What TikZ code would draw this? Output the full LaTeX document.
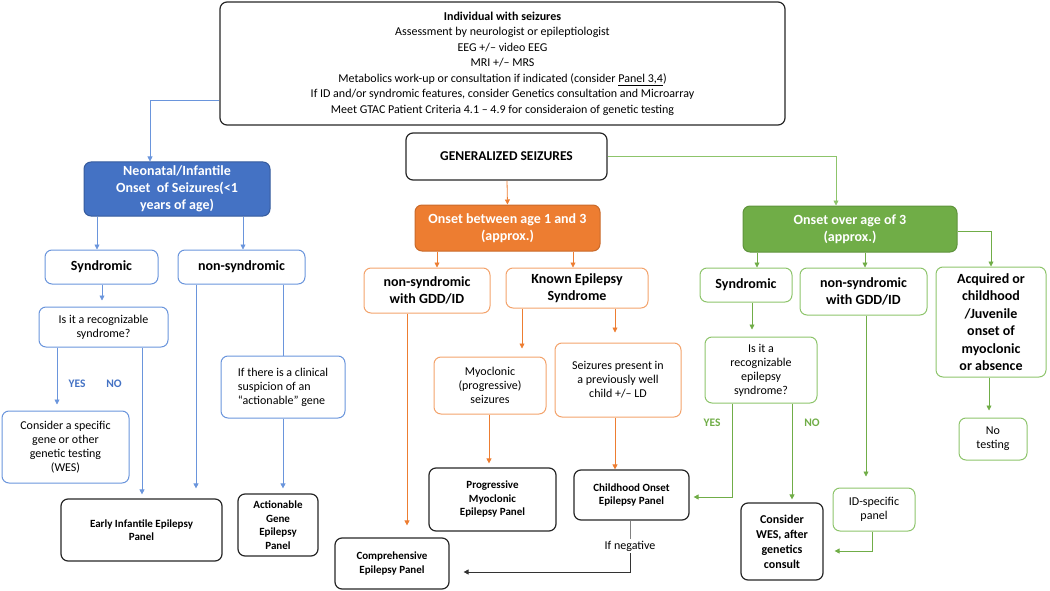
\documentclass[tikz,border=0pt]{standalone}
\usepackage{fontspec}
\setmainfont{Carlito}
\usetikzlibrary{arrows.meta}
\definecolor{cb}{HTML}{4472C4}
\definecolor{cbl}{HTML}{6A95DC}
\definecolor{co}{HTML}{ED7D31}
\definecolor{col}{HTML}{F3A36C}
\definecolor{cg}{HTML}{70AD47}
\definecolor{cgl}{HTML}{8DC46B}
\newcommand\bx[7]{\node[#6,minimum width={(#4-#2)*1pt},minimum height={(#5-#3)*1pt}] (#1) at ({(#2+#4)/2},{(#3+#5)/2}) {#7};}
\tikzset{
 box/.style={draw,rounded corners=7pt,line width=1pt,align=center,inner sep=1pt,font=\fontsize{12}{14}\selectfont},
 dk/.style={box,draw=black!85,line width=1.2pt,font=\bfseries\fontsize{11}{13.5}\selectfont},
 bl/.style={box,draw=cbl},
 ol/.style={box,draw=col},
 gl/.style={box,draw=cgl},
 hd/.style={font=\bfseries\fontsize{14}{17.5}\selectfont},
 fillb/.style={box,draw=cb!80!black,fill=cb,text=white,hd},
 fillo/.style={box,draw=co!85!black,fill=co,text=white,hd},
 fillg/.style={box,draw=cg!85!black,fill=cg,text=white,hd},
 arr/.style={-{Triangle[length=5pt,width=5pt]},line width=0.8pt},
 ab/.style={arr,cbl},ao/.style={arr,co},ag/.style={arr,cg},
 lab/.style={font=\bfseries\fontsize{11.5}{13}\selectfont}
}
\begin{document}
\begin{tikzpicture}[x=1pt,y=-1pt]
\useasboundingbox (0,0) rectangle (1050,591);
\bx{top}{220}{2}{785}{125}{dk,font=\fontsize{12}{15.5}\selectfont}{\textbf{Individual with seizures}\\Assessment by neurologist or epileptiologist\\EEG +/-- video EEG\\MRI +/-- MRS\\Metabolics work-up or consultation if indicated (consider \underline{Panel 3,4})\\If ID and/or syndromic features, consider Genetics consultation and Microarray\\Meet GTAC Patient Criteria 4.1 -- 4.9 for consideraion of genetic testing}
\bx{neo}{84}{162}{270}{216}{fillb,font=\bfseries\fontsize{14}{17}\selectfont}{Neonatal/Infantile\\Onset\ \ of Seizures(<1\\years of age)}
\bx{syn}{45}{250}{158}{284}{bl,hd,text=black}{Syndromic}
\bx{non}{178}{250}{305}{284}{bl,hd,text=black}{non-syndromic}
\bx{q1}{39}{307}{168}{347}{bl}{Is it a recognizable\\syndrome?}
\bx{cons}{2}{411}{129}{483}{bl}{Consider a specific\\gene or other\\genetic testing\\(WES)}
\bx{early}{61}{499}{222}{561}{dk}{Early Infantile Epilepsy\\Panel}
\bx{clin}{221}{356}{345}{418}{bl,align=left}{If there is a clinical\\suspicion of an\\``actionable'' gene}
\bx{act}{238}{494}{318}{556}{dk}{Actionable\\Gene\\Epilepsy\\Panel}
\bx{gen}{406}{133}{607}{180}{dk,font=\bfseries\fontsize{13.5}{16}\selectfont}{GENERALIZED SEIZURES}
\bx{ora}{415}{205}{600}{251}{fillo}{Onset between age 1 and 3\\(approx.)}
\bx{gre}{743}{206}{957}{252}{fillg}{Onset over age of 3\\(approx.)}
\bx{ons}{364}{268}{490}{313}{ol,hd}{non-syndromic\\with GDD/ID}
\bx{kno}{506}{268}{648}{308}{ol,hd}{Known Epilepsy\\Syndrome}
\bx{myo}{434}{357}{546}{414}{ol}{Myoclonic\\(progressive)\\seizures}
\bx{sez}{555}{343}{681}{417}{ol}{Seizures present in\\a previously well\\child +/-- LD}
\bx{pme}{429}{468}{556}{531}{dk}{Progressive\\Myoclonic\\Epilepsy Panel}
\bx{coe}{574}{470}{689}{520}{dk}{Childhood Onset\\Epilepsy Panel}
\bx{comp}{335}{538}{449}{589}{dk}{Comprehensive\\Epilepsy Panel}
\bx{gsy}{700}{268}{792}{302}{gl,hd}{Syndromic}
\bx{gno}{800}{268}{927}{315}{gl,hd}{non-syndromic\\with GDD/ID}
\bx{acq}{936}{267}{1046}{377}{gl,hd}{Acquired or\\childhood\\/Juvenile\\onset of\\myoclonic\\or absence}
\bx{q2}{705}{337}{817}{403}{gl}{Is it a\\recognizable\\epilepsy\\syndrome?}
\bx{wes}{741}{503}{823}{580}{dk,font=\bfseries\fontsize{12}{15}\selectfont}{Consider\\WES, after\\genetics\\consult}
\bx{idp}{833}{488}{915}{531}{gl}{ID-specific\\panel}
\bx{not}{959}{418}{1027}{460}{gl}{No\\testing}
\node[font=\fontsize{12}{14}\selectfont,fill=white,inner sep=2pt] (neg) at (630,546) {If negative};
\node[lab,text=cb] at (77,384) {YES};
\node[lab,text=cb] at (114,384) {NO};
\node[lab,text=cg] at (712,423) {YES};
\node[lab,text=cg] at (812,423) {NO};
% blue
\draw[ab] ([yshift=-36.5pt]top.west) -| ([xshift=-27pt]neo.north);
\draw[ab] ([xshift=-80pt]neo.south) -- ([xshift=-4.5pt]syn.north);
\draw[ab] ([xshift=66pt]neo.south) -- ([xshift=1.5pt]non.north);
\draw[ab,shorten >=6pt] ([xshift=.5pt]syn.south) -- ([xshift=-1.5pt]q1.north);
\draw[ab,shorten >=6pt] ([xshift=-46.5pt]q1.south) -- ([xshift=-8.5pt]cons.north);
\draw[ab,shorten >=4pt] ([xshift=38.5pt]q1.south) -- ([xshift=.5pt]early.north);
\draw[ab,shorten >=10pt] ([xshift=-45.5pt]non.south) -- ([xshift=54.5pt]early.north);
\draw[cbl,line width=0.8pt] ([xshift=41.5pt]non.south) -- (clin.north);
\draw[ab,shorten >=5pt] (clin.south) -- ([xshift=5pt]act.north);
% orange
\draw[ao] ([xshift=.5pt]gen.south) -- (ora.north);
\draw[ao] ([xshift=-70.5pt]ora.south) -- ([xshift=10pt]ons.north);
\draw[ao] ([xshift=65.5pt]ora.south) -- ([xshift=-4pt]kno.north);
\draw[ao,shorten >=8pt] ([xshift=-55pt]kno.south) -- ([xshift=32pt]myo.north);
\draw[ao,shorten >=10pt] ([xshift=38pt]kno.south) -- ([xshift=-3pt]sez.north);
\draw[ao,shorten >=4pt] ([xshift=-1pt]myo.south) -- ([xshift=-3.5pt]pme.north);
\draw[ao] ([xshift=-3pt]sez.south) -- ([xshift=-16.5pt]coe.north);
\draw[ao,shorten >=12pt] ([xshift=-20pt]ons.south) -- ([xshift=15pt]comp.north);
\draw[gray,line width=0.8pt] ([xshift=-1.5pt]coe.south) -- (neg.north);
\draw[arr,black!80,shorten >=14pt] (neg.south) |- ([yshift=-8.5pt]comp.east);
% green
\draw[ag,cgl] (gen.east) -| ([xshift=-14pt]gre.north);
\draw[ag] ([xshift=-93pt]gre.south) -- ([xshift=11pt]gsy.north);
\draw[ag] ([xshift=15pt]gre.south) -- ([xshift=1.5pt]gno.north);
\draw[ag] ([yshift=-2pt]gre.east) -| (acq.north);
\draw[ag,shorten >=7pt] ([xshift=6pt]gsy.south) -- ([xshift=-9pt]q2.north);
\draw[ag,shorten >=4pt] ([xshift=-29pt]q2.south) |- ([yshift=-2pt]coe.east);
\draw[ag,shorten >=3pt] ([xshift=31pt]q2.south) -- ([xshift=10pt]wes.north);
\draw[ag,shorten >=11pt] ([xshift=2.5pt]gno.south) -- ([xshift=-8pt]idp.north);
\draw[ag,shorten >=11pt] ([xshift=-2pt]idp.south) |- ([yshift=-9.5pt]wes.east);
\draw[ag,shorten >=7pt] ([xshift=-2pt]acq.south) -- ([xshift=-4pt]not.north);
\end{tikzpicture}
\end{document}
